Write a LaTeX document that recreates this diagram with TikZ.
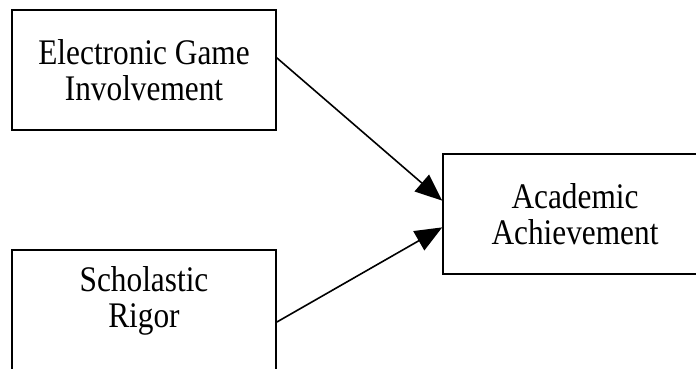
\documentclass[tikz,border=0pt]{standalone}
\usepackage{fontspec}
\setmainfont{Liberation Serif}[FakeStretch=0.87]
\usetikzlibrary{arrows.meta, calc}
\tikzset{
  varbox/.style={rectangle, draw=black, line width=1.6pt,
    minimum width=264pt, minimum height=120pt, inner sep=0pt,
    align=center, font=\fontsize{36}{35.5}\selectfont},
  patharrow/.style={-{Triangle[length=27pt, width=22pt]}, line width=1.6pt, color=black}
}
\begin{document}
\begin{tikzpicture}[x=1pt, y=-1pt]
  \useasboundingbox (0,0) rectangle (696,369);
  \clip (0,0) rectangle (696,369);

  % Variables
  \node[varbox] (game) at (144,70) {Electronic Game\\Involvement};
  \node[varbox, minimum height=124pt, text depth=30pt] (rigor) at (144,312) {Scholastic\\Rigor};
  \node[varbox] (achieve) at (575,214) {Academic\\Achievement};

  % Paths
  \draw[patharrow] ($(game.north east)!0.4!(game.south east)$) -- ($(achieve.north west)!0.39!(achieve.south west)$);
  \draw[patharrow] ($(rigor.north east)!0.58!(rigor.south east)$) -- ($(achieve.north west)!0.61!(achieve.south west)$);
\end{tikzpicture}
\end{document}
